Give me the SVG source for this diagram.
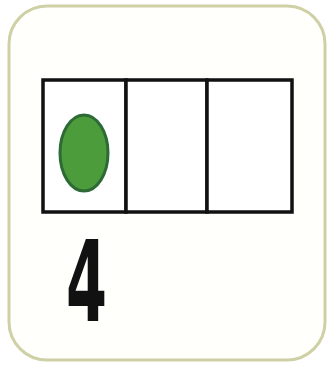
<svg xmlns="http://www.w3.org/2000/svg" width="332" height="365" viewBox="0 0 332 365">
<style>
.card{fill:#fffffb;stroke:#cfd0a6;stroke-width:3}
.cell{fill:#ffffff;stroke:#111;stroke-width:3.5}
.num{font-family:"DejaVu Sans",sans-serif;font-weight:bold;font-size:112px;fill:#111}
</style>
<rect width="332" height="365" fill="#ffffff"/>
<g id="card"><rect class="card" x="9" y="6" width="316" height="354" rx="38"/></g>
<g id="frame">
<rect class="cell" x="43" y="80" width="83" height="132"/>
<rect class="cell" x="126" y="80" width="81" height="132"/>
<rect class="cell" x="207" y="80" width="85" height="132"/>
</g>
<g id="counter"><ellipse cx="84" cy="153" rx="24" ry="38" fill="#4d9c3c" stroke="#2d6a35" stroke-width="3"/></g>
<g id="label"><text class="num" x="66" y="321" textLength="41" lengthAdjust="spacingAndGlyphs">4</text></g>
</svg>
